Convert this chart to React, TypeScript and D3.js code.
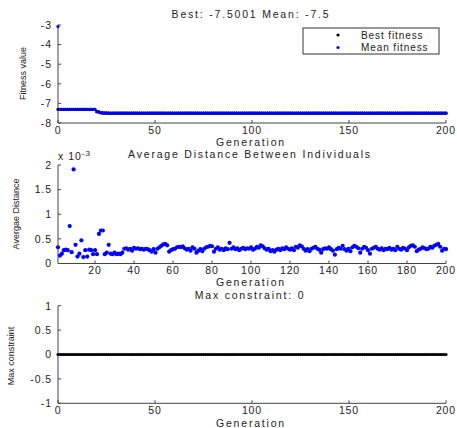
import React from "react";
import * as d3 from "d3";

const generations: number[] = d3.range(0, 201);
// Mean fitness per generation (0..200)
const meanFitnessHead: number[] = [
  -3.08, -7.3, -7.3, -7.3, -7.3, -7.3, -7.3, -7.3, -7.3, -7.3,
  -7.3, -7.3, -7.3, -7.3, -7.3, -7.3, -7.3, -7.3, -7.3, -7.3,
  -7.42, -7.42, -7.47, -7.47, -7.48, -7.48,
];
const meanFitnessTail = -7.5;
const bestFitnessHead: number[] = [
  -7.3, -7.3, -7.3, -7.3, -7.3, -7.3, -7.3, -7.3, -7.3, -7.3,
  -7.3, -7.3, -7.3, -7.3, -7.3, -7.3, -7.3, -7.3, -7.3, -7.3,
  -7.42, -7.45, -7.48, -7.5, -7.5, -7.5,
];
const bestFitnessTail = -7.5001;
const meanFitness: number[] = generations.map((g) => (g < meanFitnessHead.length ? meanFitnessHead[g] : meanFitnessTail));
const bestFitness: number[] = generations.map((g) => (g < bestFitnessHead.length ? bestFitnessHead[g] : bestFitnessTail));

// Average distance between individuals (x 10^-3), generations 1..200
const avgDistance: number[] = [
  0.33, 0.16, 0.2, 0.27, 0.28, 0.27, 0.76, 0.23, 1.91, 0.38,
  0.14, 0.2, 0.47, 0.13, 0.27, 0.14, 0.28, 0.27, 0.19, 0.27,
  0.19, 0.6, 0.67, 0.67, 0.19, 0.22, 0.38, 0.2, 0.19, 0.22,
  0.19, 0.2, 0.19, 0.22, 0.3, 0.31, 0.28, 0.3, 0.26, 0.32,
  0.3, 0.31, 0.29, 0.3, 0.28, 0.3, 0.29, 0.27, 0.24, 0.29,
  0.22, 0.3, 0.33, 0.36, 0.39, 0.4, 0.37, 0.24, 0.27, 0.29,
  0.3, 0.33, 0.34, 0.33, 0.35, 0.31, 0.28, 0.3, 0.26, 0.33,
  0.3, 0.22, 0.26, 0.29, 0.25, 0.3, 0.33, 0.34, 0.36, 0.35,
  0.24, 0.3, 0.33, 0.28, 0.3, 0.27, 0.31, 0.29, 0.42, 0.3,
  0.33, 0.29, 0.31, 0.27, 0.3, 0.32, 0.29, 0.31, 0.3, 0.33,
  0.28, 0.3, 0.34, 0.32, 0.37, 0.35, 0.31, 0.28, 0.3, 0.25,
  0.27, 0.24, 0.28, 0.3, 0.27, 0.31, 0.29, 0.33, 0.3, 0.28,
  0.31, 0.27, 0.34, 0.32, 0.37, 0.35, 0.3, 0.26, 0.29, 0.25,
  0.3, 0.32, 0.34, 0.3, 0.28, 0.22, 0.29, 0.31, 0.3, 0.33,
  0.29, 0.26, 0.18, 0.29, 0.32, 0.3, 0.36, 0.29, 0.26, 0.3,
  0.25, 0.33, 0.36, 0.34, 0.31, 0.22, 0.3, 0.34, 0.32, 0.27,
  0.2, 0.3, 0.32, 0.34, 0.3, 0.28, 0.31, 0.27, 0.3, 0.29,
  0.32, 0.28, 0.3, 0.27, 0.34, 0.3, 0.28, 0.32, 0.3, 0.27,
  0.33, 0.36, 0.37, 0.34, 0.25, 0.28, 0.3, 0.33, 0.31, 0.29,
  0.3, 0.34, 0.32, 0.36, 0.38, 0.4, 0.34, 0.26, 0.3, 0.29,
];
const distGenerations: number[] = d3.range(1, 201);
const maxConstraint: number[] = generations.map(() => 0);

const topYTicks = [-8, -7, -6, -5, -4, -3];
const topXTicks = [0, 50, 100, 150, 200];
const midYTicks = [0, 0.5, 1, 1.5, 2];
const midXTicks = [20, 40, 60, 80, 100, 120, 140, 160, 180, 200];
const botYTicks = [-1, -0.5, 0, 0.5, 1];
const botXTicks = [0, 50, 100, 150, 200];

const FONT = "'Liberation Sans', Arial, Helvetica, sans-serif";
const AXIS = "#444";
const TXT = "#222";
const BLUE = "#0000ff";

type AxesProps = {
  x: d3.ScaleLinear<number, number>;
  y: d3.ScaleLinear<number, number>;
  xTicks: number[];
  yTicks: number[];
  yFmt?: (v: number) => string;
};

function Axes({ x, y, xTicks, yTicks, yFmt }: AxesProps) {
  const [x0, x1] = x.range();
  const [yb, yt] = y.range();
  const fmt = yFmt || ((v: number) => String(v));
  return (
    <g>
      <line x1={x0} x2={x1} y1={yb} y2={yb} stroke={AXIS} strokeWidth={1} />
      <line x1={x0} x2={x0} y1={yb} y2={yt} stroke={AXIS} strokeWidth={1} />
      {xTicks.map((t) => (
        <g key={"x" + t}>
          <line x1={x(t)} x2={x(t)} y1={yb} y2={yb - 3} stroke={AXIS} />
          <text x={x(t)} y={yb + 10.5} textAnchor="middle" fontSize={10.5} letterSpacing={0.9} fill={TXT} fontFamily={FONT}>
            {t}
          </text>
        </g>
      ))}
      {yTicks.map((t) => (
        <g key={"y" + t}>
          <line x1={x0} x2={x0 + 3} y1={y(t)} y2={y(t)} stroke={AXIS} />
          <text x={x0 - 6} y={y(t) + 3.8} textAnchor="end" fontSize={10.5} letterSpacing={0.9} fill={TXT} fontFamily={FONT}>
            {fmt(t)}
          </text>
        </g>
      ))}
    </g>
  );
}

export default function App() {
  const W = 457;
  const H = 428;

  const xTop = d3.scaleLinear().domain([0, 200]).range([58, 446]);
  const yTop = d3.scaleLinear().domain([-8, -3]).range([123, 25]);
  const xMid = d3.scaleLinear().domain([1, 200]).range([58, 446]);
  const yMid = d3.scaleLinear().domain([0, 2]).range([263.5, 165]);
  const xBot = d3.scaleLinear().domain([0, 200]).range([58, 446]);
  const yBot = d3.scaleLinear().domain([-1, 1]).range([403.3, 305.7]);

  const titleStyle = { fontSize: 10.5, letterSpacing: 1.8, fill: TXT, fontFamily: FONT } as const;

  return (
    <svg width={W} height={H} style={{ position: "absolute", left: 0, top: 0, background: "#fff" }}>
      <rect x={0} y={0} width={W} height={H} fill="#fff" />

      {/* Top: fitness */}
      <Axes x={xTop} y={yTop} xTicks={topXTicks} yTicks={topYTicks} />
      {generations.map((g) => (
        <circle key={"b" + g} cx={xTop(g)} cy={yTop(bestFitness[g])} r={1.6} fill="#000" />
      ))}
      {generations.map((g) => (
        <circle key={"m" + g} cx={xTop(g)} cy={yTop(meanFitness[g])} r={1.6} fill={BLUE} />
      ))}
      <text x={251} y={17.5} textAnchor="middle" {...titleStyle}>Best: -7.5001 Mean: -7.5</text>
      <text x={251} y={145.5} textAnchor="middle" {...titleStyle}>Generation</text>
      <text transform="translate(26,73.5) rotate(-90)" textAnchor="middle" fontSize={9} fill={TXT} fontFamily={FONT}>Fitness value</text>
      <g>
        <rect x={303} y={28} width={136} height={26} fill="#fff" stroke="#333" strokeWidth={1} />
        <circle cx={338} cy={35} r={1.6} fill="#000" />
        <circle cx={338} cy={47.5} r={1.6} fill={BLUE} />
        <text x={361} y={38.5} fontSize={10} letterSpacing={0.9} fill={TXT} fontFamily={FONT}>Best fitness</text>
        <text x={361} y={51} fontSize={10} letterSpacing={0.9} fill={TXT} fontFamily={FONT}>Mean fitness</text>
      </g>

      {/* Middle: average distance */}
      <Axes x={xMid} y={yMid} xTicks={midXTicks} yTicks={midYTicks} />
      {distGenerations.map((g, i) => (
        <circle key={"d" + g} cx={xMid(g)} cy={yMid(avgDistance[i])} r={2.1} fill={BLUE} />
      ))}
      <text x={250} y={158.3} textAnchor="middle" {...titleStyle}>Average Distance Between Individuals</text>
      <text x={58} y={160} fontSize={10.5} letterSpacing={1} fill={TXT} fontFamily={FONT}>
        x 10<tspan dy={-4.5} fontSize={8}>-3</tspan>
      </text>
      <text x={251} y={286} textAnchor="middle" {...titleStyle}>Generation</text>
      <text transform="translate(19,214) rotate(-90)" textAnchor="middle" fontSize={9} fill={TXT} fontFamily={FONT}>Avergae Distance</text>

      {/* Bottom: max constraint */}
      <Axes x={xBot} y={yBot} xTicks={botXTicks} yTicks={botYTicks} />
      {generations.map((g) => (
        <circle key={"c" + g} cx={xBot(g)} cy={yBot(maxConstraint[g])} r={1.6} fill="#000" />
      ))}
      <text x={250} y={299} textAnchor="middle" {...titleStyle}>Max constraint: 0</text>
      <text x={251} y={427} textAnchor="middle" {...titleStyle}>Generation</text>
      <text transform="translate(14,356) rotate(-90)" textAnchor="middle" fontSize={9} fill={TXT} fontFamily={FONT}>Max constraint</text>
    </svg>
  );
}
